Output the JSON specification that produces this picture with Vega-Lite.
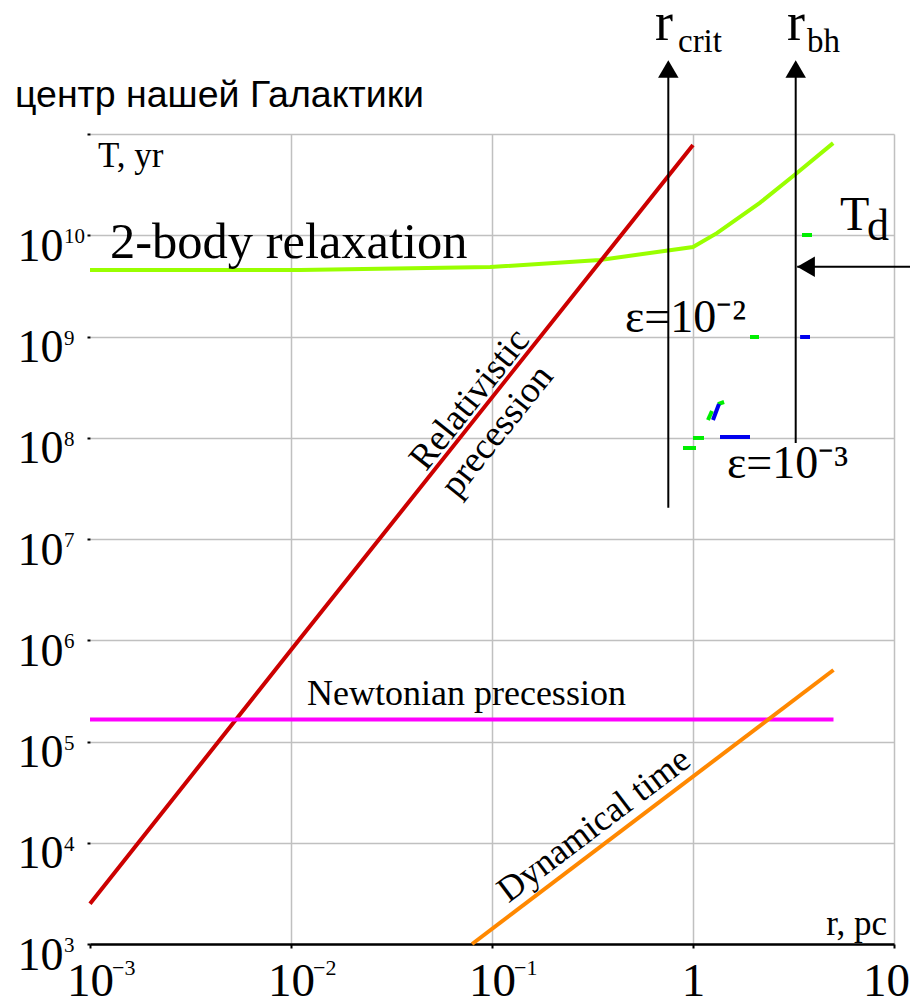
{
  "$schema": "https://vega.github.io/schema/vega-lite/v6.json",
  "width": 804,
  "height": 810,
  "autosize": {"type": "none"},
  "padding": {"left": 90, "top": 134, "right": 16, "bottom": 57},
  "background": "white",
  "config": {
    "view": {"stroke": null},
    "font": "Liberation Serif",
    "text": {"font": "Liberation Serif", "color": "black"}
  },
  "layer": [
    {
      "data": {"values": [
        {"r": 0.001, "T": 4.54e9},
        {"r": 0.0111, "T": 4.55e9},
        {"r": 0.098, "T": 4.85e9},
        {"r": 0.344, "T": 5.7e9},
        {"r": 1.0, "T": 7.66e9},
        {"r": 1.315, "T": 1.05e10},
        {"r": 2.15, "T": 2.09e10},
        {"r": 3.29, "T": 4.12e10},
        {"r": 4.98, "T": 8.13e10}
      ]},
      "mark": {"type": "line", "color": "#99ff00", "strokeWidth": 4},
      "encoding": {
        "x": {
          "field": "r", "type": "quantitative",
          "scale": {"type": "log", "domain": [0.001, 10], "nice": false},
          "axis": {
            "title": null,
            "values": [0.001, 0.01, 0.1, 1, 10],
            "labelExpr": "datum.value > 0.5 && datum.value < 2 ? '1' : '10'",
            "labelFont": "Liberation Serif",
            "labelFontSize": 47,
            "labelColor": "black",
            "labelBaseline": "alphabetic",
            "labelPadding": 47,
            "labelOverlap": false,
            "labelFlush": false,
            "labelOffset": {"condition": {"test": "datum.value > 5", "value": -8}, "value": 0},
            "tickSize": 4,
            "tickColor": "black",
            "tickWidth": 2,
            "domainColor": "black",
            "domainWidth": 2.5,
            "grid": true,
            "gridColor": "#c0c0c0",
            "gridWidth": 1.5,
            "gridOpacity": {"condition": {"test": "datum.value < 0.005", "value": 0}, "value": 1}
          }
        },
        "y": {
          "field": "T", "type": "quantitative",
          "scale": {"type": "log", "domain": [1000, 1e11], "nice": false},
          "axis": {
            "title": null,
            "values": [1e3, 1e4, 1e5, 1e6, 1e7, 1e8, 1e9, 1e10, 1e11],
            "labelExpr": "datum.value > 5e10 ? '' : '10'",
            "labelFont": "Liberation Serif",
            "labelFontSize": 46,
            "labelColor": "black",
            "labelAlign": "left",
            "labelBaseline": "alphabetic",
            "labelOffset": 25,
            "labelPadding": 70,
            "labelOverlap": false,
            "labelFlush": false,
            "tickSize": 3,
            "tickColor": "black",
            "tickWidth": 2,
            "domain": false,
            "grid": true,
            "gridColor": "#c0c0c0",
            "gridWidth": 1.5
          }
        }
      }
    },
    {
      "data": {"values": [
        {"T": 1e3, "e": "3"}, {"T": 1e4, "e": "4"}, {"T": 1e5, "e": "5"}, {"T": 1e6, "e": "6"},
        {"T": 1e7, "e": "7"}, {"T": 1e8, "e": "8"}, {"T": 1e9, "e": "9"}, {"T": 1e10, "e": "10"}
      ]},
      "mark": {"type": "text", "fontSize": 21, "align": "left", "baseline": "alphabetic", "dx": -26, "dy": 8},
      "encoding": {
        "x": {"datum": 0.001, "type": "quantitative"},
        "y": {"field": "T", "type": "quantitative"},
        "text": {"field": "e"}
      }
    },
    {
      "data": {"values": [
        {"r": 0.001, "e": "−3"}, {"r": 0.01, "e": "−2"}, {"r": 0.1, "e": "−1"}
      ]},
      "mark": {"type": "text", "fontSize": 22, "align": "left", "baseline": "alphabetic", "dx": 22, "dy": 31},
      "encoding": {
        "x": {"field": "r", "type": "quantitative"},
        "y": {"datum": 1000, "type": "quantitative"},
        "text": {"field": "e"}
      }
    },
    {
      "data": {"values": [
        {"r": 0.001, "T": 2500},
        {"r": 0.01, "T": 8.0e5},
        {"r": 1.0, "T": 7.8e10}
      ]},
      "mark": {"type": "line", "color": "#cc0000", "strokeWidth": 4},
      "encoding": {
        "x": {"field": "r", "type": "quantitative"},
        "y": {"field": "T", "type": "quantitative"}
      }
    },
    {
      "data": {"values": [
        {"r": 0.001, "T": 1.65e5},
        {"r": 5.0, "T": 1.65e5}
      ]},
      "mark": {"type": "line", "color": "#ff00ff", "strokeWidth": 4},
      "encoding": {
        "x": {"field": "r", "type": "quantitative"},
        "y": {"field": "T", "type": "quantitative"}
      }
    },
    {
      "data": {"values": [
        {"r": 0.0796, "T": 1000},
        {"r": 5.0, "T": 5.08e5}
      ]},
      "mark": {"type": "line", "color": "#ff8800", "strokeWidth": 4},
      "encoding": {
        "x": {"field": "r", "type": "quantitative"},
        "y": {"field": "T", "type": "quantitative"}
      }
    },
    {
      "data": {"values": [
        {"r": 1.921, "r2": 2.13, "T": 9.89e8, "T2": 9.89e8},
        {"r": 1.0, "r2": 1.134, "T": 9.95e7, "T2": 9.95e7},
        {"r": 0.892, "r2": 1.035, "T": 7.92e7, "T2": 7.92e7},
        {"r": 3.485, "r2": 3.91, "T": 1.006e10, "T2": 1.006e10},
        {"r": 1.187, "r2": 1.243, "T": 1.497e8, "T2": 1.837e8},
        {"r": 1.331, "r2": 1.427, "T": 2.153e8, "T2": 2.254e8}
      ]},
      "mark": {"type": "rule", "color": "#00ee00", "strokeWidth": 4},
      "encoding": {
        "x": {"field": "r", "type": "quantitative"},
        "x2": {"field": "r2"},
        "y": {"field": "T", "type": "quantitative"},
        "y2": {"field": "T2"}
      }
    },
    {
      "data": {"values": [
        {"r": 3.41, "r2": 3.82, "T": 9.89e8, "T2": 9.89e8},
        {"r": 1.362, "r2": 1.921, "T": 1.017e8, "T2": 1.017e8},
        {"r": 1.257, "r2": 1.347, "T": 1.497e8, "T2": 2.153e8}
      ]},
      "mark": {"type": "rule", "color": "#0000ee", "strokeWidth": 4},
      "encoding": {
        "x": {"field": "r", "type": "quantitative"},
        "x2": {"field": "r2"},
        "y": {"field": "T", "type": "quantitative"},
        "y2": {"field": "T2"}
      }
    },
    {
      "data": {"values": [
        {"r": 0.7536, "T": 2.03e7, "T2": 4.2e11},
        {"r": 3.243, "T": 8.87e7, "T2": 4.2e11}
      ]},
      "mark": {"type": "rule", "color": "black", "strokeWidth": 2},
      "encoding": {
        "x": {"field": "r", "type": "quantitative"},
        "y": {"field": "T", "type": "quantitative"},
        "y2": {"field": "T2"}
      }
    },
    {
      "data": {"values": [
        {"r": 0.7536, "T": 4.385e11},
        {"r": 3.243, "T": 4.385e11}
      ]},
      "mark": {"type": "point", "shape": "triangle-up", "size": 420, "filled": true, "color": "black", "opacity": 1},
      "encoding": {
        "x": {"field": "r", "type": "quantitative"},
        "y": {"field": "T", "type": "quantitative"}
      }
    },
    {
      "data": {"values": [
        {"r": 3.3, "r2": 13, "T": 4.89e9}
      ]},
      "mark": {"type": "rule", "color": "black", "strokeWidth": 2},
      "encoding": {
        "x": {"field": "r", "type": "quantitative"},
        "x2": {"field": "r2"},
        "y": {"field": "T", "type": "quantitative"}
      }
    },
    {
      "data": {"values": [
        {"r": 3.65, "T": 4.89e9}
      ]},
      "mark": {"type": "point", "shape": "triangle-left", "size": 420, "filled": true, "color": "black", "opacity": 1},
      "encoding": {
        "x": {"field": "r", "type": "quantitative"},
        "y": {"field": "T", "type": "quantitative"}
      }
    },
    {
      "data": {"values": [
        {"r": 0.0004234, "T": 1.848e11, "label": "центр нашей Галактики"}
      ]},
      "mark": {"type": "text", "font": "Liberation Sans", "fontSize": 37.5, "align": "left", "baseline": "alphabetic", "color": "black"},
      "encoding": {
        "x": {"field": "r", "type": "quantitative"},
        "y": {"field": "T", "type": "quantitative"},
        "text": {"field": "label"}
      }
    },
    {
      "data": {"values": [
        {"r": 0.001096, "T": 4.72e10, "label": "T, yr"}
      ]},
      "mark": {"type": "text", "fontSize": 35, "align": "left", "baseline": "alphabetic"},
      "encoding": {
        "x": {"field": "r", "type": "quantitative"},
        "y": {"field": "T", "type": "quantitative"},
        "text": {"field": "label"}
      }
    },
    {
      "data": {"values": [
        {"r": 9.23, "T": 1227, "label": "r, pc"}
      ]},
      "mark": {"type": "text", "fontSize": 35, "align": "right", "baseline": "alphabetic"},
      "encoding": {
        "x": {"field": "r", "type": "quantitative"},
        "y": {"field": "T", "type": "quantitative"},
        "text": {"field": "label"}
      }
    },
    {
      "data": {"values": [
        {"r": 0.001257, "T": 5.96e9, "label": "2-body relaxation"}
      ]},
      "mark": {"type": "text", "fontSize": 50.5, "align": "left", "baseline": "alphabetic"},
      "encoding": {
        "x": {"field": "r", "type": "quantitative"},
        "y": {"field": "T", "type": "quantitative"},
        "text": {"field": "label"}
      }
    },
    {
      "data": {"values": [
        {"r": 0.01201, "T": 2.294e5, "label": "Newtonian precession"}
      ]},
      "mark": {"type": "text", "fontSize": 36, "align": "left", "baseline": "alphabetic"},
      "encoding": {
        "x": {"field": "r", "type": "quantitative"},
        "y": {"field": "T", "type": "quantitative"},
        "text": {"field": "label"}
      }
    },
    {
      "data": {"values": [
        {"r": 0.08946, "T": 1.90e8, "label": "Relativistic"}
      ]},
      "mark": {"type": "text", "fontSize": 37, "align": "center", "baseline": "middle", "angle": 308.5, "dy": -16},
      "encoding": {
        "x": {"field": "r", "type": "quantitative"},
        "y": {"field": "T", "type": "quantitative"},
        "text": {"field": "label"}
      }
    },
    {
      "data": {"values": [
        {"r": 0.0848, "T": 1.663e8, "label": "precession"}
      ]},
      "mark": {"type": "text", "fontSize": 37, "align": "center", "baseline": "middle", "angle": 308.5, "dy": 25},
      "encoding": {
        "x": {"field": "r", "type": "quantitative"},
        "y": {"field": "T", "type": "quantitative"},
        "text": {"field": "label"}
      }
    },
    {
      "data": {"values": [
        {"r": 0.372, "T": 1.023e4, "label": "Dynamical time"}
      ]},
      "mark": {"type": "text", "fontSize": 36, "align": "center", "baseline": "middle", "angle": 322.9, "dy": -21},
      "encoding": {
        "x": {"field": "r", "type": "quantitative"},
        "y": {"field": "T", "type": "quantitative"},
        "text": {"field": "label"}
      }
    },
    {
      "data": {"values": [
        {"r": 0.4588, "T": 1.115e9, "label": "ε=10⁻²"},
        {"r": 1.476, "T": 4.0e7, "label": "ε=10⁻³"}
      ]},
      "mark": {"type": "text", "fontSize": 46, "align": "left", "baseline": "alphabetic"},
      "encoding": {
        "x": {"field": "r", "type": "quantitative"},
        "y": {"field": "T", "type": "quantitative"},
        "text": {"field": "label"}
      }
    },
    {
      "data": {"values": [
        {"r": 5.387, "T": 1.127e10, "label": "T"}
      ]},
      "mark": {"type": "text", "fontSize": 48, "align": "left", "baseline": "alphabetic"},
      "encoding": {
        "x": {"field": "r", "type": "quantitative"},
        "y": {"field": "T", "type": "quantitative"},
        "text": {"field": "label"}
      }
    },
    {
      "data": {"values": [
        {"r": 7.34, "T": 8.97e9, "label": "d"}
      ]},
      "mark": {"type": "text", "fontSize": 44, "align": "left", "baseline": "alphabetic"},
      "encoding": {
        "x": {"field": "r", "type": "quantitative"},
        "y": {"field": "T", "type": "quantitative"},
        "text": {"field": "label"}
      }
    },
    {
      "data": {"values": [
        {"r": 0.647, "T": 8.47e11, "label": "r"},
        {"r": 2.936, "T": 8.47e11, "label": "r"}
      ]},
      "mark": {"type": "text", "fontSize": 54, "align": "left", "baseline": "alphabetic"},
      "encoding": {
        "x": {"field": "r", "type": "quantitative"},
        "y": {"field": "T", "type": "quantitative"},
        "text": {"field": "label"}
      }
    },
    {
      "data": {"values": [
        {"r": 0.842, "T": 6.46e11, "label": "crit"},
        {"r": 3.69, "T": 6.46e11, "label": "bh"}
      ]},
      "mark": {"type": "text", "fontSize": 33, "align": "left", "baseline": "alphabetic"},
      "encoding": {
        "x": {"field": "r", "type": "quantitative"},
        "y": {"field": "T", "type": "quantitative"},
        "text": {"field": "label"}
      }
    }
  ]
}
